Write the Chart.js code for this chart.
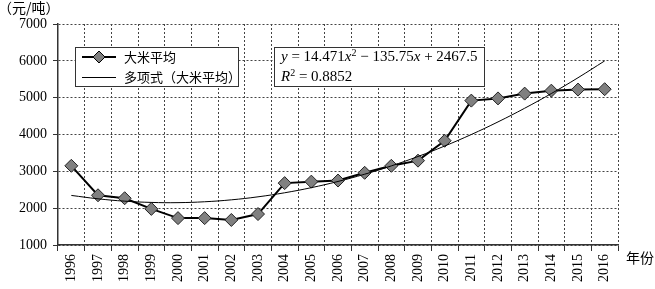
<!DOCTYPE html>
<html>
<head>
<meta charset="utf-8">
<script src="https://cdn.jsdelivr.net/npm/chart.js@4.4.1/dist/chart.umd.min.js"></script>
<style>
  html, body { margin: 0; padding: 0; background: #fff; }
  canvas { display: block; }
</style>
</head>
<body>
<canvas id="chart-rice" width="655" height="289" style="width:655px;height:289px"></canvas>
<script>
var years = ["1996","1997","1998","1999","2000","2001","2002","2003","2004","2005","2006",
	"2007","2008","2009","2010","2011","2012","2013","2014","2015","2016"]
var ricePrice = [3150,2350,2270,1980,1730,1730,1680,1840,2680,2720,2750,
	2960,3150,3290,3830,4920,4980,5110,5190,5220,5230]
// polynomial trend line
var riceTrend = [2346,2254,2190,2156,2150,2174,2226,2308,2418,2557,2725,
	2922,3148,3403,3687,4000,4342,4713,5112,5541,5998]
var yTicks = [1000,2000,3000,4000,5000,6000,7000]

var serif = "'Liberation Serif', 'Times New Roman', serif"
var cjk = "'Noto Sans CJK SC', sans-serif"

// draws the legend box, the equation box and the axis captions
var boxesPlugin = {
	id: "boxes",
	afterDraw: function(chart) {
		var ctx = chart.ctx
		ctx.save()

		// legend box
		ctx.fillStyle = "#fff"
		ctx.fillRect(75.5, 47.5, 163, 39)
		ctx.strokeStyle = "#333"
		ctx.lineWidth = 1
		ctx.strokeRect(75.5, 47.5, 163, 39)

		ctx.strokeStyle = "#000"
		ctx.lineWidth = 2
		ctx.beginPath(); ctx.moveTo(82, 57); ctx.lineTo(116, 57); ctx.stroke()
		ctx.fillStyle = "#808080"
		ctx.lineWidth = 1
		ctx.beginPath()
		ctx.moveTo(99, 51); ctx.lineTo(105, 57); ctx.lineTo(99, 63); ctx.lineTo(93, 57); ctx.closePath()
		ctx.fill(); ctx.stroke()
		ctx.beginPath(); ctx.moveTo(82, 77.5); ctx.lineTo(116, 77.5); ctx.stroke()

		ctx.fillStyle = "#000"
		ctx.font = "13px " + cjk
		ctx.textBaseline = "middle"
		ctx.textAlign = "left"
		ctx.fillText("大米平均", 124, 57)
		ctx.fillText("多项式（大米平均）", 124, 77)

		// equation box
		ctx.fillStyle = "#fff"
		ctx.fillRect(274.5, 47.5, 210, 39)
		ctx.strokeStyle = "#333"
		ctx.strokeRect(274.5, 47.5, 210, 39)

		var parts = [
			["y", true], [" = 14.471", false], ["x", true], ["2", false, true],
			[" − 135.75", false], ["x", true], [" + 2467.5", false]
		]
		var x = 281
		ctx.fillStyle = "#000"
		parts.forEach(function(p) {
			ctx.font = (p[1] ? "italic " : "") + (p[2] ? "10px " : "15px ") + serif
			ctx.fillText(p[0], x, p[2] ? 53 : 57)
			x += ctx.measureText(p[0]).width
		})
		x = 281
		var parts2 = [["R", true], ["2", false, true], [" = 0.8852", false]]
		parts2.forEach(function(p) {
			ctx.font = (p[1] ? "italic " : "") + (p[2] ? "10px " : "15px ") + serif
			ctx.fillText(p[0], x, p[2] ? 73 : 77)
			x += ctx.measureText(p[0]).width
		})

		// axis captions
		ctx.font = "14px " + cjk
		ctx.fillText("（元/吨）", -2, 8)
		ctx.fillText("年份", 626, 258)

		ctx.restore()
	}
}

var ctxRice = document.getElementById("chart-rice").getContext("2d")
var chartRice = new Chart(ctxRice, {
	type: "line",
	data: {
		labels: years,
		datasets: [
			{
				label: "多项式（大米平均）",
				data: riceTrend,
				borderColor: "#000",
				borderWidth: 1,
				pointRadius: 0,
				tension: 0.4,
				fill: false
			},
			{
				label: "大米平均",
				data: ricePrice,
				borderColor: "#000",
				borderWidth: 2,
				pointStyle: "rectRot",
				pointRadius: 6.5,
				pointBackgroundColor: "#808080",
				pointBorderColor: "#222",
				pointBorderWidth: 1,
				tension: 0,
				fill: false
			}
		]
	},
	options: {
		responsive: false,
		maintainAspectRatio: false,
		animation: false,
		devicePixelRatio: 1,
		layout: { padding: { top: 24, right: 37, left: 0, bottom: 0 } },
		plugins: {
			legend: { display: false },
			tooltip: { enabled: false }
		},
		scales: {
			x: {
				offset: true,
				grid: {
					offset: true,
					color: "#444",
					lineWidth: 1,
					tickLength: 6,
					tickColor: "#333",
					tickBorderDash: []
				},
				border: { display: true, color: "#333", width: 1.5, dash: [2, 2] },
				ticks: {
					color: "#000",
					font: { family: serif, size: 14 },
					minRotation: 90,
					maxRotation: 90,
					autoSkip: false,
					padding: 3
				},
				afterFit: function(s) { s.height = 44 }
			},
			y: {
				min: 1000,
				max: 7000,
				afterBuildTicks: function(s) {
					s.ticks = yTicks.map(function(v) { return { value: v } })
				},
				grid: {
					color: "#444",
					lineWidth: 1,
					tickLength: 5,
					tickColor: "#333",
					tickBorderDash: []
				},
				border: { display: true, color: "#333", width: 1.5, dash: [2, 2] },
				ticks: {
					color: "#000",
					font: { family: serif, size: 14 },
					padding: 6,
					callback: function(v) { return String(v) }
				},
				afterFit: function(s) { s.width = 58 }
			}
		}
	},
	plugins: [boxesPlugin]
})
</script>
</body>
</html>
